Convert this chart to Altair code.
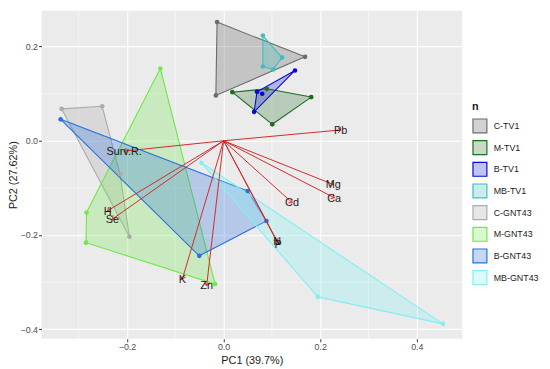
import altair as alt
import pandas as pd

# ---- data ----
groups = ["C-TV1", "M-TV1", "B-TV1", "MB-TV1", "C-GNT43", "M-GNT43", "B-GNT43", "MB-GNT43"]
stroke_colors = ["#6B6B6B", "#1F6B1F", "#0A0ACD", "#3EBFBF", "#ABABAB", "#6FE84A", "#2A6FE0", "#84EEF2"]
fill_colors = ["rgba(107,107,107,0.30)", "rgba(31,107,31,0.25)", "rgba(10,10,205,0.25)",
               "rgba(62,191,191,0.28)", "rgba(171,171,171,0.30)", "rgba(111,232,74,0.28)",
               "rgba(42,111,224,0.28)", "rgba(132,238,242,0.30)"]

hull_pc1 = {
    "C-TV1": [-0.0135, 0.1687, -0.016],
    "M-TV1": [0.0181, 0.0893, 0.1815, 0.1008],
    "B-TV1": [0.1478, 0.0632, 0.0692],
    "MB-TV1": [0.0813, 0.121, 0.1028, 0.0813],
    "C-GNT43": [-0.3353, -0.2514, -0.2143, -0.195],
    "M-GNT43": [-0.131, -0.0175, -0.2849, -0.2837],
    "B-GNT43": [-0.3373, 0.0498, 0.0887, -0.0504],
    "MB-GNT43": [-0.0458, 0.4542, 0.195],
}
hull_pc2 = {
    "C-TV1": [0.2517, 0.178, 0.0962],
    "M-TV1": [0.1031, 0.1102, 0.0927, 0.0349],
    "B-TV1": [0.1492, 0.0613, 0.104],
    "MB-TV1": [0.2232, 0.1764, 0.1513, 0.1576],
    "C-GNT43": [0.0676, 0.0732, -0.0711, -0.2036],
    "M-GNT43": [0.1533, -0.304, -0.2162, -0.1521],
    "B-GNT43": [0.0454, -0.1067, -0.1701, -0.2441],
    "MB-GNT43": [-0.0467, -0.3885, -0.3312],
}
inner_group = ["B-TV1"]
inner_pc1 = [0.080]
inner_pc2 = [0.0998]

var_names = ["Pb", "Surv.R.", "Mg", "Ca", "Cd", "N", "P", "H", "Se", "K", "Zn"]
var_pc1 = [0.2425, -0.206, 0.227, 0.229, 0.1417, 0.111, 0.113, -0.24, -0.23, -0.0853, -0.035]
var_pc2 = [0.023, -0.022, -0.0927, -0.1207, -0.131, -0.213, -0.219, -0.1485, -0.166, -0.293, -0.307]

x_major = [-0.2, 0.0, 0.2, 0.4]
x_minor = [-0.3, -0.1, 0.1, 0.3]
y_major = [-0.4, -0.2, 0.0, 0.2]
y_minor = [-0.3, -0.1, 0.1]

# ---- tables ----
rows = []
for g in groups:
    xs_, ys_ = hull_pc1[g], hull_pc2[g]
    for i in range(len(xs_) + 1):
        k = i % len(xs_)
        rows.append({"n": g, "vid": i, "pc1": xs_[k], "pc2": ys_[k]})
hull_df = pd.DataFrame(rows)

pts_rows = [{"n": g, "pc1": x, "pc2": y} for g in groups for x, y in zip(hull_pc1[g], hull_pc2[g])]
pts_rows += [{"n": g, "pc1": x, "pc2": y} for g, x, y in zip(inner_group, inner_pc1, inner_pc2)]
pts_df = pd.DataFrame(pts_rows)

arr_df = pd.DataFrame({"name": var_names, "pc1": var_pc1, "pc2": var_pc2})

FONT = "Liberation Sans"
xs = alt.Scale(domain=[-0.377, 0.494], nice=False, zero=False)
ys = alt.Scale(domain=[-0.42, 0.276], nice=False, zero=False)

X = alt.X("pc1:Q", scale=xs, title="PC1 (39.7%)",
          axis=alt.Axis(values=x_major, format=".1f", grid=True))
Y = alt.Y("pc2:Q", scale=ys, title="PC2 (27.62%)",
          axis=alt.Axis(values=y_major, format=".1f", grid=True))

minor_x = alt.Chart(pd.DataFrame({"v": x_minor})).mark_rule(color="white", strokeWidth=0.5).encode(
    x=alt.X("v:Q", scale=xs))
minor_y = alt.Chart(pd.DataFrame({"v": y_minor})).mark_rule(color="white", strokeWidth=0.5).encode(
    y=alt.Y("v:Q", scale=ys))

legend = alt.Legend(title="n", orient="none", legendX=437, legendY=92, symbolType="square",
                    symbolSize=200, symbolStrokeWidth=1.2, rowPadding=2, labelFontSize=9,
                    titleFontSize=11, labelFont=FONT, titleFont=FONT, labelColor="#1a1a1a",
                    titleColor="#1a1a1a", labelOffset=6, titlePadding=6, labelLimit=60)

hulls = alt.Chart(hull_df).mark_line(strokeWidth=1.1, interpolate="linear").encode(
    x=X, y=Y,
    fill=alt.Fill("n:N", scale=alt.Scale(domain=groups, range=fill_colors), legend=legend),
    stroke=alt.Stroke("n:N", scale=alt.Scale(domain=groups, range=stroke_colors), legend=legend),
    order="vid:Q",
)

points = alt.Chart(pts_df).mark_circle(size=22, opacity=1).encode(
    x=X, y=Y,
    color=alt.Color("n:N", scale=alt.Scale(domain=groups, range=stroke_colors), legend=None),
)

arrows = alt.Chart(arr_df).mark_rule(color="#CF2C2A", strokeWidth=1).encode(
    x=X, y=Y, x2=alt.datum(0), y2=alt.datum(0))

heads = alt.Chart(arr_df).transform_calculate(
    ang="(atan2(datum.pc1, datum.pc2) * 180 / PI + 360) % 360"
).mark_point(shape="M-1,1L0,0L1,1", filled=False, size=28, strokeWidth=1, color="#CF2C2A", opacity=1).encode(
    x=X, y=Y, angle=alt.Angle("ang:Q", scale=None))

labels = alt.Chart(arr_df).mark_text(font=FONT, fontSize=11, color="#1a1a1a", align="center",
                                     baseline="middle", dy=1).encode(x=X, y=Y, text="name:N")

chart = alt.layer(minor_x, minor_y, hulls, points, arrows, heads, labels).properties(
    width=427, height=333,
    autosize=alt.AutoSizeParams(type="none"),
    padding={"left": 34, "top": 0, "right": 81, "bottom": 28},
).configure_view(fill="#EBEBEB", strokeWidth=0).configure_axis(
    domain=False, gridColor="white", gridWidth=1.1, tickColor="#333333", tickSize=3,
    labelColor="#4D4D4D", labelFontSize=9, labelFont=FONT, titleFont=FONT,
    titleFontSize=11, titleFontWeight="normal", titleColor="#1a1a1a", labelPadding=1,
).configure_axisX(titlePadding=3).configure_axisY(titlePadding=2)

chart.save("out.html", embed_options={"renderer": "svg", "actions": False})
